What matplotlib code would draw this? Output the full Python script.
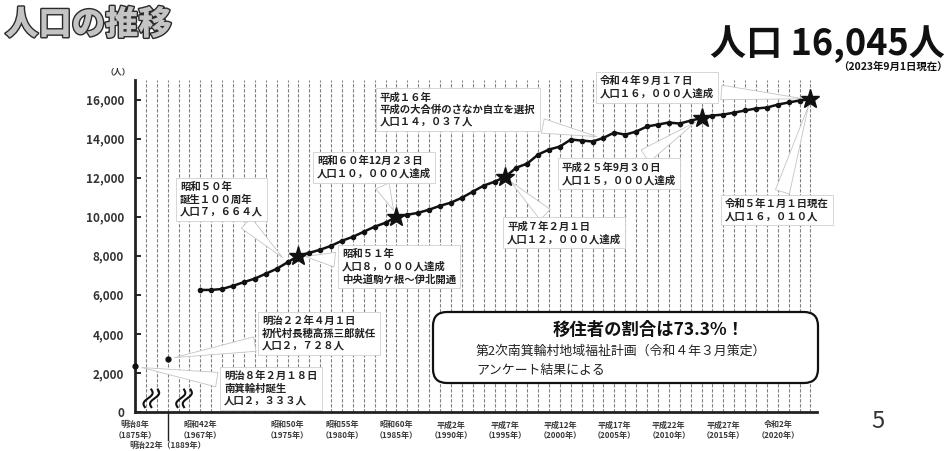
import numpy as np
import matplotlib
matplotlib.use('Agg')
import matplotlib.pyplot as plt
import matplotlib.patheffects as pe
from matplotlib.patches import FancyBboxPatch
from matplotlib.transforms import IdentityTransform

plt.rcParams['font.family'] = ['Noto Sans CJK JP', 'DejaVu Sans']

# Meiji era points (before the axis break)
early_years = [1875, 1889]
early_pop = [2333, 2728]

# yearly population 1967-2023
years = list(range(1967, 2024))
population = [6250, 6250, 6300, 6460, 6650, 6830, 7080, 7330, 7664, 8000,
              8150, 8310, 8510, 8770, 8970, 9230, 9490, 9690, 10000, 10100,
              10200, 10360, 10560, 10720, 10970, 11280, 11590, 11790, 12050, 12510,
              12720, 13180, 13440, 13590, 13950, 13900, 13850, 14037, 14310, 14200,
              14360, 14620, 14720, 14820, 14770, 14920, 15050, 15180, 15230, 15330,
              15440, 15540, 15590, 15740, 15850, 15950, 16010]

star_years = [1976, 1985, 1995, 2013, 2023]

tick_years = [1875, 1967, 1975, 1980, 1985, 1990, 1995, 2000, 2005, 2010, 2015, 2020]
tick_labels = ['明治8年\n（1875年）', '昭和42年\n（1967年）', '昭和50年\n（1975年）',
               '昭和55年\n（1980年）', '昭和60年\n（1985年）', '平成2年\n（1990年）',
               '平成7年\n（1995年）', '平成12年\n（2000年）', '平成17年\n（2005年）',
               '平成22年\n（2010年）', '平成27年\n（2015年）', '令和2年\n（2020年）']

# (year pointed at, text, text top-left in image pixels)
callouts = [
    (1875, '明治８年２月１８日\n南箕輪村誕生\n人口２，３３３人', (224, 371)),
    (1889, '明治２２年４月１日\n初代村長穂高孫三郎就任\n人口２，７２８人', (262, 316)),
    (1975, '昭和５０年\n誕生１００周年\n人口７，６６４人', (180, 182)),
    (1976, '昭和５１年\n人口８，０００人達成\n中央道駒ケ根～伊北開通', (342, 249)),
    (1985, '昭和６０年12月２３日\n人口１０，０００人達成', (317, 156)),
    (2004, '平成１６年\n平成の大合併のさなか自立を選択\n人口１４，０３７人', (380, 92)),
    (1995, '平成７年２月１日\n人口１２，０００人達成', (507, 221)),
    (2013, '平成２５年9月３０日\n人口１５，０００人達成', (562, 162)),
    (2023, '令和５年１月１日現在\n人口１６，０１０人', (725, 199)),
    (2023, '令和４年９月１７日\n人口１６，０００人達成', (600, 76)),
]


# broken axis: the Meiji years are squeezed in before 1967
def xpos(year):
    return np.interp(year, [1875, 1889, 1967, 2030], [0, 3, 6, 69])


def pop_at(year):
    if year in early_years:
        return early_pop[early_years.index(year)]
    return population[years.index(year)]


W, H = 952, 451
fig = plt.figure(figsize=(W / 100, H / 100), dpi=100)
ax = fig.add_axes([135 / W, 1 - 412 / H, 682 / W, 332 / H])
ax.set_xlim(0, 62.6)
ax.set_ylim(0, 17000)

for p in range(1, 63):
    ax.axvline(p, color='#808080', lw=0.8, ls=(0, (3, 1.5)), zorder=1)

ax.plot(xpos(years), population, '-o', color='#111111', lw=1.8, ms=3, zorder=5)
ax.plot(xpos(early_years), early_pop, 'o', color='#111111', ms=3.5, zorder=5, clip_on=False)
ax.plot(xpos(star_years), [pop_at(y) for y in star_years], '*', color='#111111',
        ms=14, zorder=6, clip_on=False)

for yr, txt, (tx, ty) in callouts:
    ax.annotate(txt, xy=(xpos(yr), pop_at(yr)), xytext=(tx, H - ty),
                textcoords='figure pixels', ha='left', va='top',
                fontsize=7.5, fontweight='bold', color='#222222', linespacing=1.25,
                bbox=dict(boxstyle='square,pad=0.4', fc='white', ec='#d0d0d0', lw=0.6),
                arrowprops=dict(arrowstyle='wedge,tail_width=1.4,shrink_factor=0.5',
                                fc='white', ec='#c4c4c4', lw=0.6, shrinkB=5),
                zorder=3, annotation_clip=False)

# axis break marks
for xb in [xpos(1882), xpos(1928)]:
    t = np.linspace(0, 1, 40)
    for off in [-0.3, 0.3]:
        ax.plot(xb + off - 0.3 + 0.6 * t - 0.25 * np.sin(2 * np.pi * t), 250 + 900 * t,
                color='#111111', lw=1.5, zorder=7, clip_on=False)

for s in ['top', 'right']:
    ax.spines[s].set_visible(False)
for s in ['left', 'bottom']:
    ax.spines[s].set_linewidth(2)
    ax.spines[s].set_color('#222222')

ax.set_yticks(range(0, 16001, 2000))
ax.set_yticklabels([f'{v:,}' for v in range(0, 16001, 2000)], fontsize=8.5,
                   fontweight='bold', color='#333333')
ax.tick_params(axis='y', direction='in', length=4, width=1.2, pad=8)
ax.set_xticks([xpos(y) for y in tick_years])
ax.set_xticklabels(tick_labels, fontsize=5.8, fontweight='bold', color='#3a3a3a',
                   linespacing=1.3)
ax.tick_params(axis='x', length=0, pad=6)

# 1889 label hangs lower with a long tick
ax.axvline(xpos(1889), ymin=-0.085, ymax=0, color='#222222', lw=1, clip_on=False)
ax.text(xpos(1889), -0.113, '明治22年（1889年）', transform=ax.get_xaxis_transform(),
        ha='center', va='bottom', fontsize=5.8, fontweight='bold', color='#3a3a3a')

fig.text(118 / W, 1 - 72 / H, '（人）', fontsize=6, fontweight='bold', color='#333333',
         ha='center', va='center')

fig.text(5 / W, 1 - 24 / H, '人口の推移', fontsize=24, fontweight='heavy', color='#c4c4c4',
         va='center', ha='left',
         path_effects=[pe.withStroke(linewidth=2, foreground='#2a2a2a')])
fig.text(945 / W, 1 - 44 / H, '人口 16,045人', fontsize=26, fontweight='bold',
         color='#111111', ha='right', va='center')
fig.text(948 / W, 1 - 67 / H, '（2023年9月1日現在）', fontsize=7.5, fontweight='bold',
         color='#111111', ha='right', va='center')

box = FancyBboxPatch((433, H - 383), 385, 71, boxstyle='round,pad=0,rounding_size=14',
                     transform=IdentityTransform(), fc='white', ec='#111111', lw=1.6,
                     zorder=8)
fig.add_artist(box)
fig.text(649 / W, 1 - 330 / H, '移住者の割合は73.3%！', fontsize=12.5, fontweight='bold',
         color='#111111', ha='center', va='center', zorder=9)
fig.text(476 / W, 1 - 351 / H, '第2次南箕輪村地域福祉計画（令和４年３月策定）', fontsize=9.3,
         color='#222222', ha='left', va='center', zorder=9)
fig.text(476 / W, 1 - 370 / H, 'アンケート結果による', fontsize=9.3,
         color='#222222', ha='left', va='center', zorder=9)

fig.text(878 / W, 1 - 422 / H, '5', fontsize=17, color='#333333', ha='center', va='center')

fig.savefig('out.png', dpi=100)
